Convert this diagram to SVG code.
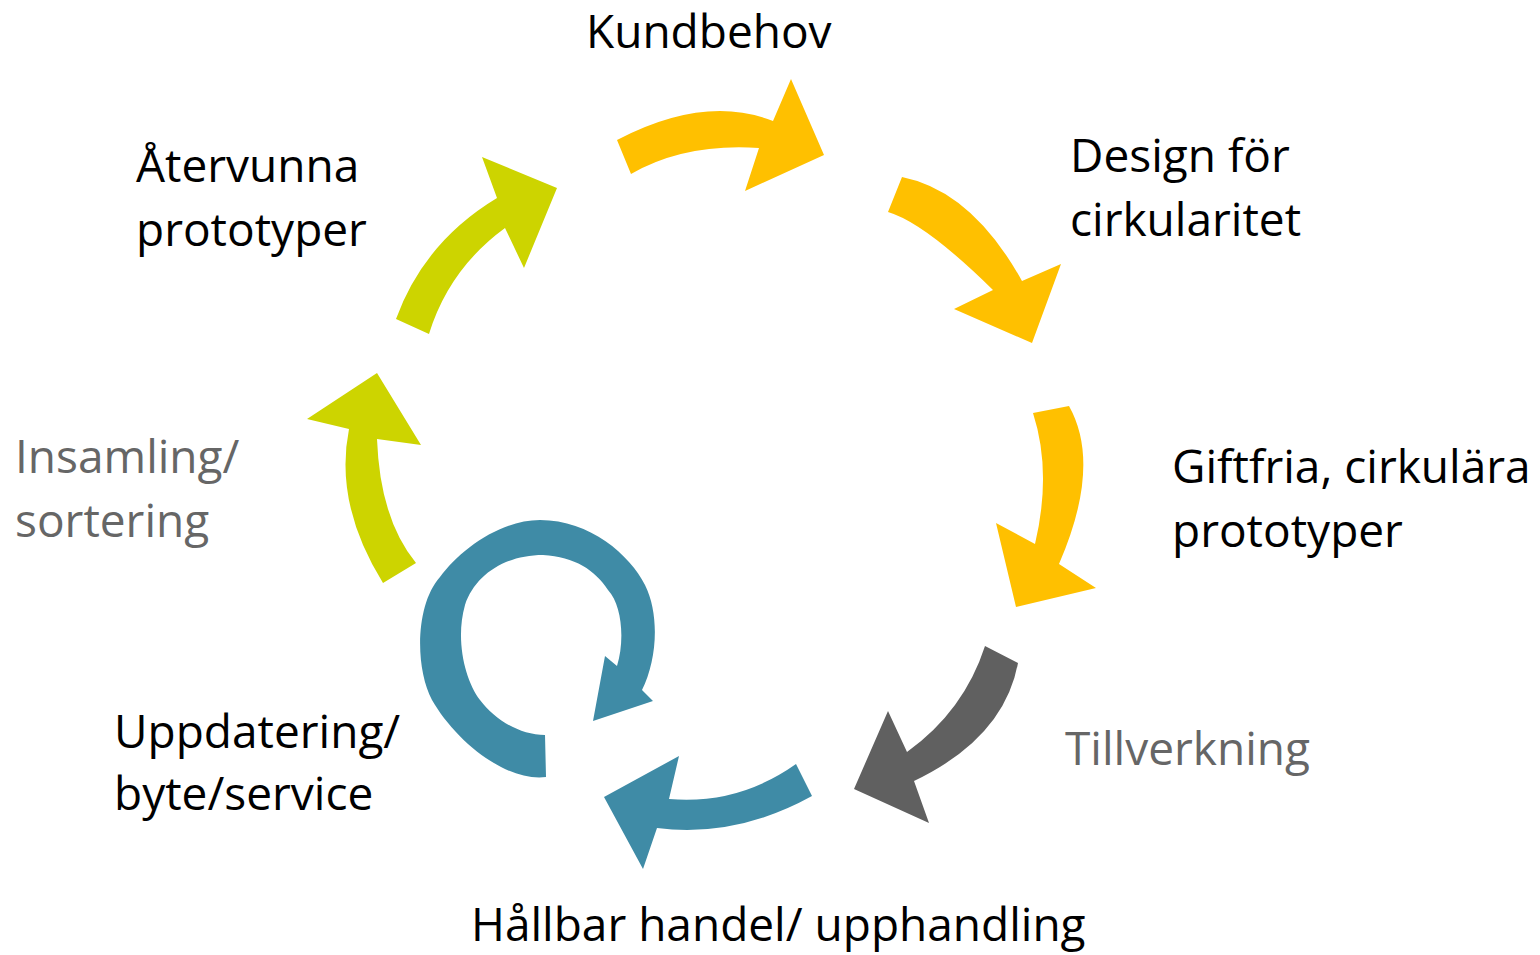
<svg xmlns="http://www.w3.org/2000/svg" width="1540" height="955" viewBox="0 0 1540 955">
<style>
.t{font-family:"Open Sans","Liberation Sans",sans-serif;font-size:46px;fill:#000}
.g{fill:#666666}
.y{fill:#FFC000}
.l{fill:#CDD400}
.b{fill:#3F8BA6}
.d{fill:#606060}
</style>
<rect width="1540" height="955" fill="#fff"/>
<g id="connectors">
<path id="a1" class="y" d="M617,140 Q705,94 773,121 L791,79 L824,155 L745,191 L759,148 Q685,143 631,174 Z"/>
<path id="a2" class="y" d="M902,177 Q972,191 1022,281 L1061,264 L1032,343 L954,309 L993,290 Q925,223 888,212 Z"/>
<path id="a3" class="y" d="M1069,406 Q1102,465 1059,564 L1096,588 L1016,607 L996,523 L1035,544 Q1052,472 1033,413 Z"/>
<path id="a4" class="d" d="M1018,663 Q1004,738 914,781 L929,823 L854,789 L888,711 L907,752 Q964,711 985,646 Z"/>
<path id="a5" class="b" d="M812,796 Q736,838 657,828 L643,869 L604,797 L679,756 L669,799 Q738,805 796,764 Z"/>
<path id="a6" class="b" d="M546,777 C505,782 455,740 432,700 C415,668 415,605 440,577 C460,550 500,520 540,520 C590,520 630,555 645,585 C660,615 657,660 642,690 L653,701 L593,721 L605,656 L617,666 C625,640 622,605 608,590 C595,570 575,557 543,555 C505,555 475,575 465,605 C455,640 465,680 480,700 C495,720 520,735 545,735 Z"/>
<path id="a7" class="l" d="M383,583 Q334,504 349,429 L307,419 L377,373 L421,445 L377,439 Q380,519 416,563 Z"/>
<path id="a8" class="l" d="M396,319 Q424,242 497,198 L482,157 L557,188 L524,268 L505,228 Q449,269 429,334 Z"/>
</g>
<g id="n-kundbehov"><text class="t" x="586" y="48">Kundbehov</text></g>
<g id="n-design"><text class="t" x="1070" y="172">Design för</text><text class="t" x="1070" y="236">cirkularitet</text></g>
<g id="n-giftfria"><text class="t" x="1172" y="483">Giftfria, cirkulära</text><text class="t" x="1172" y="547">prototyper</text></g>
<g id="n-tillverkning"><text class="t g" x="1065" y="765">Tillverkning</text></g>
<g id="n-handel"><text class="t" x="471" y="941">Hållbar handel/ upphandling</text></g>
<g id="n-uppdatering"><text class="t" x="114" y="748">Uppdatering/</text><text class="t" x="114" y="810">byte/service</text></g>
<g id="n-insamling"><text class="t g" x="15" y="473">Insamling/</text><text class="t g" x="15" y="537">sortering</text></g>
<g id="n-atervunna"><text class="t" x="136" y="182">Återvunna</text><text class="t" x="136" y="246">prototyper</text></g>
</svg>
